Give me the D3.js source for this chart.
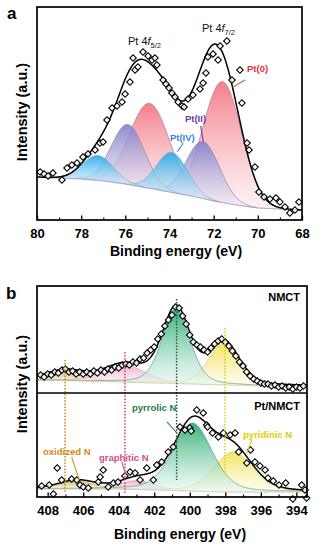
<!DOCTYPE html>
<html><head><meta charset="utf-8">
<script src="https://cdn.jsdelivr.net/npm/d3@7"></script>
<style>
html,body{margin:0;padding:0;background:#fff;}
svg{display:block;font-family:"Liberation Sans",Arial,Helvetica,sans-serif;}
</style></head><body>
<svg id="c" width="324" height="550"></svg>
<script>
// ================= DATA =================
// ---- Panel a : Pt 4f ----
const ptTicks = [80, 78, 76, 74, 72, 70, 68];
const ptMinorTicks = [79, 77, 75, 73, 71, 69];
const ptBE = [79.86,79.68,79.50,79.28,78.87,78.64,78.42,78.19,77.92,77.69,77.37,77.15,77.01,76.83,76.60,76.38,76.15,76.01,75.79,75.65,75.56,75.43,75.20,74.97,74.79,74.66,74.57,74.29,74.16,74.02,73.89,73.75,73.61,73.43,73.34,73.16,72.94,72.62,72.48,72.35,72.26,72.03,71.80,71.71,71.40,71.17,70.81,70.72,70.49,70.40,70.13,69.95,69.72,69.45,69.18,69.00,68.77,68.55,68.32,68.14];
const ptCounts = [48,46,44,47,40,52,55,57,63,66,70,77,78,100,112,114,118,126,138,162,150,153,168,164,160,162,155,140,136,132,127,123,118,114,113,121,125,131,137,147,163,166,160,174,179,140,150,117,77,70,53,28,23,21,22,18,13,7,10,18];
const ptBgBE = [80, 79, 78, 77, 76, 75, 74, 73, 72, 71, 70, 69, 68];
const ptBgVal = [43, 42, 41, 39, 36, 32, 28, 24, 19, 15, 12, 11, 10];
const ptSpecies = ["Pt(0)", "Pt(0)", "Pt(II)", "Pt(II)", "Pt(IV)", "Pt(IV)"];
const ptCenter = [71.6, 74.9, 72.48, 75.88, 73.89, 77.24];
const ptHeight = [121, 85, 57, 60, 40, 25];
const ptFwhm = [2.03, 2.12, 1.77, 1.77, 1.65, 1.65];
const ptMix = [0, 0, 0, 0, 0, 0];
const ptPeakBE = [75.88, 72.53];
const ptPeakI = [175, 188];
const ptPeakSub = ["5/2", "7/2"];
const ptLabelText = ["Pt(0)", "Pt(II)", "Pt(IV)"];
const ptLabelBE = [70.49, 73.3, 73.98];
const ptLabelI = [148, 98, 79];
const ptLeadBE1 = [71.14, 72.59, 73.38], ptLeadI1 = [132.7, 94, 76.7];
const ptLeadBE2 = [70.58, 72.47, 73.65], ptLeadI2 = [140, 78.3, 68.3];

// ---- Panel b : N 1s ----
const nTicks = [408, 406, 404, 402, 400, 398, 396, 394];
const nMinorTicks = [407, 405, 403, 401, 399, 397, 395];
const nmctBE = [408.4,408.2,408.0,407.8,407.6,407.4,407.2,407.0,406.8,406.6,406.4,406.2,406.0,405.8,405.6,405.4,405.2,405.0,404.8,404.6,404.4,404.2,404.0,403.8,403.6,403.4,403.2,403.0,402.8,402.6,402.4,402.2,402.0,401.8,401.6,401.4,401.2,401.0,400.8,400.6,400.4,400.2,400.0,399.8,399.6,399.4,399.2,399.0,398.8,398.6,398.4,398.2,398.0,397.8,397.6,397.4,397.2,397.0,396.8,396.6,396.4,396.2,396.0,395.8,395.6,395.4,395.2,395.0,394.8,394.6,394.4,394.2,394.0,393.8,393.6];
const nmctCounts = [18,16,19,18,21,20,23,24,21,22,19,21,19,21,19,22,20,23,21,24,23,26,25,28,29,28,31,30,34,35,40,43,46,54,59,67,73,78,86,85,77,69,58,51,48,46,43,41,45,49,52,54,51,47,42,37,31,27,21,17,14,12,10,9,9,7,8,6,7,5,6,4,6,5,7];
const ptnBE = [408.34,407.91,407.68,407.46,407.21,406.65,406.36,406.18,405.99,405.71,405.15,405.05,404.87,404.59,404.30,404.04,403.65,403.36,403.08,402.80,402.42,402.05,401.86,401.58,401.21,400.93,400.55,400.27,399.99,399.92,399.61,399.24,399.05,399.0,398.72,398.39,398.11,397.73,397.45,397.25,396.79,396.58,396.33,396.05,395.76,395.60,395.30,394.98,394.60,394.20,393.70,393.51,393.42];
const ptnCounts = [11,12,3,29,17,18,17,12,10,9,15,20,27,10,14,15,21,25,24,17,29,17,32,35,45,50,70,67,69,66,87,84,72,70,64,60,64,62,64,45,34,47,35,31,27,19,16,12,14,-2,12,7,-1];
const nmctBgBE = [408.6, 404, 400, 396, 393.4];
const nmctBgVal = [13, 11, 9, 7, 7];
const ptnBgBE = [408.6, 404, 402, 400, 398, 393.4];
const ptnBgVal = [8, 8, 7, 6, 5, 5];
const nSpecies = ["oxidized N", "graphitic N", "pyrrolic N", "pyridinic N"];
const nmctCenter = [407.0, 403.65, 400.77, 398.07];
const nmctHeight = [10, 17, 75, 42];
const nmctFwhm = [2.6, 2.8, 1.85, 2.05];
const nmctMix = [0.3, 0.3, 0.3, 0.3];
const ptnCenter = [406.35, 402.95, 399.85, 397.55];
const ptnHeight = [8, 9, 68, 40];
const ptnFwhm = [2.4, 2.2, 2.6, 2.6];
const ptnMix = [0.3, 0.3, 0.3, 0.3];
// reference (dotted) lines at the NMCT component positions
const refBE = [407.02, 403.65, 400.74, 398.02];
const refTopI = [33, 41, 94, 65];      // in NMCT panel units
const refBottomI = [5, 4, 17, 25];     // in Pt/NMCT panel units
const nLabelBE = [408.26, 405.11, 403.25, 397.0];
const nLabelI = [42, 36, 86, 59];
const nLeadBE1 = [406.65, 403.83, 401.28, 396.51], nLeadI1 = [40, 35.3, 75, 57];
const nLeadBE2 = [406.22, 403.65, 400.72, 396.79], nLeadI2 = [17, 24.7, 64, 44];

// ================= STYLES =================
const ptStyle = {
  "Pt(0)":  {top: "#f2707e", bot: "#fde8ec", line: "#a98a8a", text: "#e8303a"},
  "Pt(II)": {top: "#7f7fcc", bot: "#eee8f5", line: "#9a8ca8", text: "#6b3a9e"},
  "Pt(IV)": {top: "#1fa9ea", bot: "#dff2fb", line: "#8aa8c0", text: "#3a86d8"}
};
const nStyle = {
  "oxidized N":  {top: "#c9b25a", bot: "#f8f2dc", line: "#bfae70", text: "#d08a1a", ref: "#c08a10"},
  "graphitic N": {top: "#f2a8c6", bot: "#fdeef4", line: "#d8a8b8", text: "#d0508a", ref: "#d8406a"},
  "pyrrolic N":  {top: "#22a86a", bot: "#e4f8f2", line: "#5e9c86", text: "#1f7a4a", ref: "#1e5e36"},
  "pyridinic N": {top: "#f2e04a", bot: "#fffbe2", line: "#d8cc66", text: "#e2cc00", ref: "#d8d020"}
};

// ================= HELPERS =================
const svg = d3.select("#c");
const defs = svg.append("defs");
const FONT = '"Liberation Sans",Arial,sans-serif';
function pv(e, c, h, w, m) {
  const d = (e - c) * (e - c) / (w * w);
  return h * ((1 - m) * Math.exp(-4 * Math.LN2 * d) + m / (1 + 4 * d));
}
let gid = 0;
function gradient(top, bot) {
  const id = "g" + (gid++);
  const lg = defs.append("linearGradient").attr("id", id)
    .attr("x1", 0).attr("y1", 0).attr("x2", 0).attr("y2", 1);
  lg.append("stop").attr("offset", "0%").attr("stop-color", top).attr("stop-opacity", 0.9);
  lg.append("stop").attr("offset", "100%").attr("stop-color", bot).attr("stop-opacity", 0.55);
  return "url(#" + id + ")";
}
function clip(x0, y0, x1, y1) {
  const id = "cl" + (gid++);
  defs.append("clipPath").attr("id", id).append("rect")
    .attr("x", x0).attr("y", y0).attr("width", x1 - x0).attr("height", y1 - y0);
  return "url(#" + id + ")";
}

function spectrum(o) {
  const g = svg.append("g").attr("clip-path", o.clip);
  const bg = d3.scaleLinear().domain(o.bgBE).range(o.bgVal).clamp(true);
  const [lo, hi] = d3.extent(o.x.domain());
  const grid = d3.range(lo, hi + 1e-9, 0.02);
  const comp = (i, e) => pv(e, o.center[i], o.height[i], o.fwhm[i], o.mix[i]);
  o.order.forEach(i => {
    const st = o.style[o.species[i]];
    const area = d3.area().x(e => o.x(e)).y0(e => o.y(bg(e))).y1(e => o.y(bg(e) + comp(i, e)));
    const line = d3.line().x(e => o.x(e)).y(e => o.y(bg(e) + comp(i, e)));
    const pts = grid.filter(e => comp(i, e) > 0.3);
    g.append("path").datum(pts).attr("d", area).attr("fill", gradient(st.top, st.bot));
    g.append("path").datum(pts).attr("d", line).attr("fill", "none")
      .attr("stroke", st.line).attr("stroke-width", 0.8);
  });
  g.append("path").datum(grid)
    .attr("d", d3.line().x(e => o.x(e)).y(e => o.y(bg(e))))
    .attr("fill", "none").attr("stroke", o.bgColor).attr("stroke-width", 0.9);
  const env = e => bg(e) + o.center.reduce((s, c, i) => s + comp(i, e), 0);
  o.after && o.after(g);
  g.append("path").datum(grid)
    .attr("d", d3.line().x(e => o.x(e)).y(e => o.y(env(e))))
    .attr("fill", "none").attr("stroke", "#000").attr("stroke-width", 1.5);
  const sym = d3.symbol().type(d3.symbolSquare).size(21);
  svg.append("g").selectAll("path").data(o.ptsBE).join("path")
    .attr("d", sym)
    .attr("transform", (e, i) => `translate(${o.x(e)},${o.y(o.pts[i])}) rotate(45)`)
    .attr("fill", "#fff").attr("fill-opacity", 0.85).attr("stroke", "#000").attr("stroke-width", 1.1);
}

function bottomAxis(x, yPix, major, minor) {
  const a = svg.append("g").attr("transform", `translate(0,${yPix})`)
    .call(d3.axisBottom(x).tickValues(major).tickSize(-4.5).tickPadding(9).tickFormat(d3.format("d")));
  a.select(".domain").remove();
  a.selectAll(".tick line").attr("stroke", "#000").attr("stroke-width", 1.3);
  a.selectAll("text").attr("font-family", FONT).attr("font-size", 13)
    .attr("font-weight", "bold").attr("fill", "#000");
  const b = svg.append("g").attr("transform", `translate(0,${yPix})`)
    .call(d3.axisBottom(x).tickValues(minor).tickSize(-2.5).tickFormat(""));
  b.select(".domain").remove();
  b.selectAll(".tick line").attr("stroke", "#000").attr("stroke-width", 1.1);
}
function frame(x0, y0, x1, y1) {
  svg.append("rect").attr("x", x0).attr("y", y0).attr("width", x1 - x0).attr("height", y1 - y0)
    .attr("fill", "none").attr("stroke", "#000").attr("stroke-width", 1.7);
}
function txt(x, y, s, opt) {
  const t = svg.append("text").attr("x", x).attr("y", y).text(s)
    .attr("font-family", FONT).attr("font-size", opt.size || 10)
    .attr("font-weight", opt.weight || "bold").attr("fill", opt.fill || "#000")
    .attr("text-anchor", opt.anchor || "start");
  if (opt.rot) t.attr("transform", `rotate(${opt.rot},${x},${y})`);
  return t;
}

// ================= PANEL A =================
const aX = d3.scaleLinear().domain([80, 68]).range([37, 302]);
const aY = d3.scaleLinear().domain([0, 213]).range([220, 7]);
spectrum({
  x: aX, y: aY, clip: clip(37, 7, 302, 220),
  bgBE: ptBgBE, bgVal: ptBgVal, bgColor: "#8c88c4",
  species: ptSpecies, center: ptCenter, height: ptHeight, fwhm: ptFwhm, mix: ptMix,
  style: ptStyle, order: [0, 1, 2, 3, 4, 5], ptsBE: ptBE, pts: ptCounts
});
frame(37, 7, 302, 220);
bottomAxis(aX, 220, ptTicks, ptMinorTicks);
txt(176, 256, "Binding energy (eV)", {size: 14, anchor: "middle"});
txt(27, 112, "Intensity (a.u.)", {size: 14.5, anchor: "middle", rot: -90});
txt(7, 19, "a", {size: 17});
ptPeakBE.forEach((e, i) => {
  const t = svg.append("text").attr("x", aX(e)).attr("y", aY(ptPeakI[i]))
    .attr("font-family", FONT).attr("font-size", 11).attr("fill", "#111");
  t.append("tspan").text("Pt 4");
  t.append("tspan").attr("font-style", "italic").text("f");
  t.append("tspan").attr("font-size", 7.5).attr("dy", 3).text(ptPeakSub[i]);
});
ptLabelText.forEach((s, i) => {
  const st = ptStyle[s];
  svg.append("line")
    .attr("x1", aX(ptLeadBE1[i])).attr("y1", aY(ptLeadI1[i]))
    .attr("x2", aX(ptLeadBE2[i])).attr("y2", aY(ptLeadI2[i]))
    .attr("stroke", i === 0 ? "#b8702a" : st.text).attr("stroke-width", 1.1);
  txt(aX(ptLabelBE[i]), aY(ptLabelI[i]), s, {size: 9.5, fill: st.text});
});

// ================= PANEL B =================
const bX = d3.scaleLinear().domain([408.6, 393.4]).range([37, 307]);
const bYu = d3.scaleLinear().domain([0, 107]).range([393, 286]);
const bYl = d3.scaleLinear().domain([0, 104]).range([497, 393]);
const nOrder = [0, 1, 3, 2];
spectrum({
  x: bX, y: bYu, clip: clip(37, 286, 307, 393),
  bgBE: nmctBgBE, bgVal: nmctBgVal, bgColor: "#d8c89a",
  species: nSpecies, center: nmctCenter, height: nmctHeight, fwhm: nmctFwhm, mix: nmctMix,
  style: nStyle, order: nOrder, ptsBE: nmctBE, pts: nmctCounts
});
spectrum({
  x: bX, y: bYl, clip: clip(37, 393, 307, 497),
  bgBE: ptnBgBE, bgVal: ptnBgVal, bgColor: "#c8c0a8",
  species: nSpecies, center: ptnCenter, height: ptnHeight, fwhm: ptnFwhm, mix: ptnMix,
  style: nStyle, order: nOrder, ptsBE: ptnBE, pts: ptnCounts
});
// dotted reference lines
refBE.forEach((e, i) => {
  svg.append("line").attr("x1", bX(e)).attr("x2", bX(e))
    .attr("y1", bYu(refTopI[i])).attr("y2", bYl(refBottomI[i]))
    .attr("stroke", nStyle[nSpecies[i]].ref).attr("stroke-width", 1.5)
    .attr("stroke-dasharray", "1.5,1.6");
});
frame(37, 286, 307, 497);
svg.append("line").attr("x1", 37).attr("x2", 307).attr("y1", 393).attr("y2", 393)
  .attr("stroke", "#000").attr("stroke-width", 1.7);
bottomAxis(bX, 497, nTicks, nMinorTicks);
txt(180, 539, "Binding energy (eV)", {size: 14, anchor: "middle"});
txt(27, 384, "Intensity (a.u.)", {size: 14.5, anchor: "middle", rot: -90});
txt(6, 299, "b", {size: 17});
txt(300, 301, "NMCT", {size: 11, anchor: "end"});
txt(300, 410, "Pt/NMCT", {size: 11, anchor: "end"});
nSpecies.forEach((s, i) => {
  const st = nStyle[s];
  svg.append("line")
    .attr("x1", bX(nLeadBE1[i])).attr("y1", bYl(nLeadI1[i]))
    .attr("x2", bX(nLeadBE2[i])).attr("y2", bYl(nLeadI2[i]))
    .attr("stroke", i === 2 ? st.text : (i === 0 ? "#c8a030" : st.text)).attr("stroke-width", 1.1);
  txt(bX(nLabelBE[i]), bYl(nLabelI[i]), s, {size: 9.5, fill: st.text});
});
</script>
</body></html>
